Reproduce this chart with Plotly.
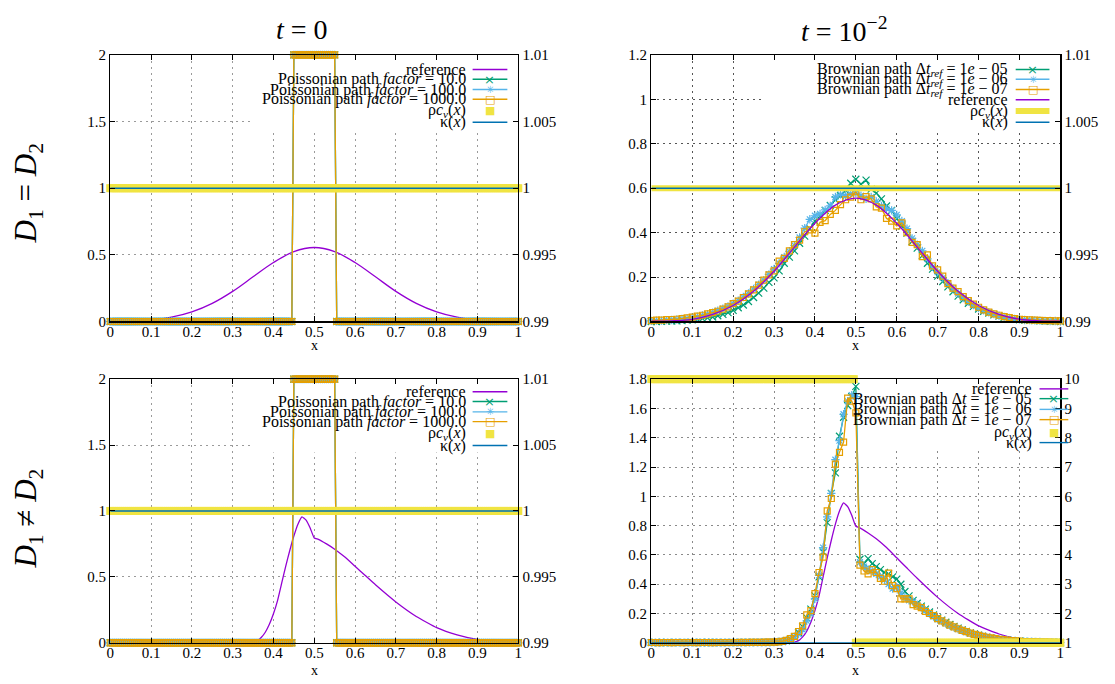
import plotly.graph_objects as go

# ---------------------------------------------------------------- data
x_tick_vals = [0, 0.1, 0.2, 0.3, 0.4, 0.5, 0.6, 0.7, 0.8, 0.9, 1.0]
x_tick_text = ["0", "0.1", "0.2", "0.3", "0.4", "0.5", "0.6", "0.7", "0.8", "0.9", "1"]

left_ticks_2 = [0, 0.5, 1, 1.5, 2]
left_ticks_2_text = ["0", "0.5", "1", "1.5", "2"]
left_ticks_12 = [0, 0.2, 0.4, 0.6, 0.8, 1.0, 1.2]
left_ticks_12_text = ["0", "0.2", "0.4", "0.6", "0.8", "1", "1.2"]
left_ticks_18 = [0, 0.2, 0.4, 0.6, 0.8, 1.0, 1.2, 1.4, 1.6, 1.8]
left_ticks_18_text = ["0", "0.2", "0.4", "0.6", "0.8", "1", "1.2", "1.4", "1.6", "1.8"]
right_ticks_001 = [0.99, 0.995, 1.0, 1.005, 1.01]
right_ticks_001_text = ["0.99", "0.995", "1", "1.005", "1.01"]
right_ticks_10 = [1, 2, 3, 4, 5, 6, 7, 8, 9, 10]
right_ticks_10_text = ["1", "2", "3", "4", "5", "6", "7", "8", "9", "10"]

# reference solution, D1 = D2
ref_eq_x = [0.0, 0.05, 0.1, 0.15, 0.2, 0.25, 0.3, 0.35, 0.4, 0.45, 0.5,
            0.55, 0.6, 0.65, 0.7, 0.75, 0.8, 0.85, 0.9, 0.95, 1.0]
ref_eq_y = [0.001, 0.003, 0.010, 0.032, 0.072, 0.136, 0.226, 0.335, 0.442, 0.524, 0.555,
            0.524, 0.442, 0.335, 0.226, 0.136, 0.072, 0.032, 0.010, 0.003, 0.001]

# reference solution, D1 != D2
ref_neq_x = [0.0, 0.1, 0.2, 0.3, 0.33, 0.35, 0.36, 0.37, 0.38, 0.39, 0.40, 0.41, 0.42,
             0.43, 0.44, 0.45, 0.46, 0.47, 0.48, 0.49, 0.50, 0.51, 0.53, 0.55, 0.575,
             0.6, 0.625, 0.65, 0.7, 0.75, 0.8, 0.85, 0.9, 0.95, 1.0]
ref_neq_y = [0.0, 0.0, 0.0, 0.0, 0.001, 0.005, 0.015, 0.04, 0.08, 0.14, 0.22, 0.32, 0.45,
             0.58, 0.70, 0.81, 0.90, 0.955, 0.93, 0.87, 0.795, 0.785, 0.75, 0.71, 0.65,
             0.58, 0.51, 0.44, 0.31, 0.20, 0.115, 0.06, 0.025, 0.008, 0.002]

# Poissonian paths at t = 0 (sampled every 0.005)
poisson_x = [round(i * 0.005, 4) for i in range(201)]
poisson_f10 = [0.0] * 90 + [2.0] * 21 + [0.0] * 90
poisson_f100 = [0.0] * 90 + [2.0] * 21 + [0.0] * 90
poisson_f1000 = [0.0] * 90 + [2.0] * 21 + [0.0] * 90

# material coefficients
coef_x = [round(i * 0.005, 4) for i in range(201)]
rho_cv_eq = [1.0] * 201
rho_cv_neq = [10.0] * 100 + [1.0] * 101
kappa_x = [0.0, 1.0]
kappa_eq = [1.0, 1.0]
kappa_neq = [1.0, 1.0]

# Brownian paths, D1 = D2, t = 1e-2 (every 0.0125)
brown_eq_x = [round(i * 0.0125, 5) for i in range(81)]
brown_eq_ref5 = [
    0.000, 0.000, 0.001, 0.002, 0.002, 0.003, 0.004, 0.006, 0.008, 0.010,
    0.013, 0.016, 0.020, 0.026, 0.032, 0.040, 0.050, 0.062, 0.074, 0.090,
    0.108, 0.128, 0.150, 0.176, 0.196, 0.228, 0.262, 0.290, 0.318, 0.352,
    0.384, 0.418, 0.452, 0.474, 0.500, 0.522, 0.548, 0.566, 0.590, 0.622,
    0.640, 0.618, 0.636, 0.596, 0.578, 0.552, 0.520, 0.500, 0.462, 0.430,
    0.398, 0.360, 0.330, 0.296, 0.262, 0.236, 0.204, 0.180, 0.156, 0.134,
    0.114, 0.098, 0.082, 0.068, 0.056, 0.046, 0.038, 0.030, 0.024, 0.018,
    0.014, 0.011, 0.008, 0.006, 0.005, 0.004, 0.003, 0.002, 0.001, 0.001,
    0.000]
brown_eq_ref6 = [
    0.003, 0.004, 0.004, 0.006, 0.007, 0.009, 0.011, 0.014, 0.018, 0.022,
    0.027, 0.033, 0.040, 0.049, 0.058, 0.068, 0.080, 0.094, 0.110, 0.126,
    0.146, 0.166, 0.186, 0.212, 0.236, 0.262, 0.290, 0.316, 0.342, 0.378,
    0.420, 0.460, 0.476, 0.484, 0.502, 0.520, 0.560, 0.572, 0.566, 0.574,
    0.578, 0.566, 0.552, 0.560, 0.540, 0.520, 0.508, 0.500, 0.480, 0.452,
    0.418, 0.374, 0.346, 0.318, 0.282, 0.246, 0.222, 0.196, 0.172, 0.148,
    0.126, 0.106, 0.090, 0.074, 0.060, 0.050, 0.041, 0.033, 0.026, 0.020,
    0.016, 0.012, 0.010, 0.007, 0.006, 0.005, 0.004, 0.003, 0.002, 0.002,
    0.001]
brown_eq_ref7 = [
    0.004, 0.006, 0.006, 0.008, 0.009, 0.010, 0.013, 0.016, 0.020, 0.024,
    0.028, 0.034, 0.040, 0.046, 0.056, 0.066, 0.080, 0.092, 0.108, 0.124,
    0.142, 0.164, 0.186, 0.210, 0.228, 0.272, 0.284, 0.318, 0.346, 0.366,
    0.404, 0.412, 0.398, 0.446, 0.454, 0.482, 0.500, 0.526, 0.548, 0.560,
    0.584, 0.548, 0.562, 0.552, 0.516, 0.510, 0.464, 0.452, 0.430, 0.444,
    0.400, 0.356, 0.346, 0.292, 0.300, 0.250, 0.232, 0.204, 0.170, 0.150,
    0.134, 0.112, 0.094, 0.078, 0.064, 0.052, 0.042, 0.034, 0.028, 0.022,
    0.017, 0.013, 0.010, 0.008, 0.007, 0.006, 0.005, 0.004, 0.004, 0.003,
    0.003]

# Brownian paths, D1 != D2, t = 1e-2 (every 0.01)
brown_neq_x = [round(i * 0.01, 3) for i in range(101)]
brown_neq_dt5 = [
    0.001, 0.002, 0.001, 0.001, 0.002, 0.001, 0.002, 0.001, 0.002, 0.002,
    0.001, 0.002, 0.002, 0.001, 0.002, 0.002, 0.002, 0.001, 0.002, 0.002,
    0.002, 0.002, 0.002, 0.003, 0.002, 0.003, 0.003, 0.003, 0.003, 0.004,
    0.004, 0.006, 0.009, 0.014, 0.024, 0.040, 0.070, 0.110, 0.170, 0.230,
    0.320, 0.450, 0.620, 0.820, 1.020, 1.160, 1.410, 1.540, 1.620, 1.680,
    1.750, 0.570, 0.540, 0.575, 0.540, 0.520, 0.500, 0.480, 0.470, 0.450,
    0.435, 0.400, 0.350, 0.320, 0.290, 0.270, 0.250, 0.230, 0.210, 0.190,
    0.170, 0.155, 0.140, 0.125, 0.112, 0.100, 0.088, 0.078, 0.068, 0.060,
    0.052, 0.045, 0.039, 0.034, 0.029, 0.025, 0.021, 0.018, 0.015, 0.013,
    0.011, 0.009, 0.008, 0.007, 0.006, 0.005, 0.004, 0.003, 0.003, 0.002,
    0.002]
brown_neq_dt6 = [
    0.002, 0.001, 0.002, 0.002, 0.001, 0.002, 0.002, 0.002, 0.001, 0.002,
    0.002, 0.002, 0.001, 0.002, 0.002, 0.002, 0.002, 0.002, 0.002, 0.003,
    0.002, 0.003, 0.002, 0.003, 0.003, 0.003, 0.003, 0.004, 0.004, 0.004,
    0.005, 0.007, 0.010, 0.015, 0.026, 0.042, 0.060, 0.090, 0.150, 0.200,
    0.300, 0.460, 0.650, 0.860, 1.020, 1.250, 1.380, 1.560, 1.650, 1.690,
    1.680, 0.550, 0.520, 0.500, 0.490, 0.470, 0.450, 0.430, 0.400, 0.370,
    0.380, 0.340, 0.310, 0.290, 0.280, 0.260, 0.240, 0.220, 0.200, 0.180,
    0.160, 0.148, 0.132, 0.118, 0.106, 0.094, 0.084, 0.074, 0.064, 0.056,
    0.049, 0.043, 0.037, 0.032, 0.028, 0.024, 0.020, 0.017, 0.015, 0.013,
    0.011, 0.009, 0.008, 0.007, 0.006, 0.005, 0.004, 0.003, 0.003, 0.002,
    0.002]
brown_neq_dt7 = [
    0.002, 0.002, 0.001, 0.002, 0.002, 0.001, 0.002, 0.002, 0.001, 0.002,
    0.002, 0.001, 0.002, 0.002, 0.002, 0.001, 0.002, 0.002, 0.002, 0.002,
    0.002, 0.002, 0.003, 0.002, 0.003, 0.003, 0.003, 0.003, 0.004, 0.004,
    0.005, 0.006, 0.010, 0.016, 0.028, 0.044, 0.077, 0.116, 0.190, 0.220,
    0.336, 0.480, 0.585, 0.900, 0.985, 1.220, 1.300, 1.370, 1.670, 1.650,
    1.570, 0.530, 0.490, 0.470, 0.500, 0.480, 0.440, 0.420, 0.475, 0.390,
    0.370, 0.300, 0.300, 0.300, 0.260, 0.250, 0.240, 0.215, 0.200, 0.185,
    0.165, 0.150, 0.135, 0.120, 0.108, 0.096, 0.085, 0.076, 0.066, 0.058,
    0.050, 0.044, 0.038, 0.033, 0.028, 0.024, 0.021, 0.018, 0.015, 0.013,
    0.011, 0.009, 0.008, 0.007, 0.006, 0.005, 0.004, 0.004, 0.003, 0.003,
    0.002]

# ---------------------------------------------------------------- style
W, H = 1115, 684
SERIF = "Liberation Serif"
GLYPH = "DejaVu Sans"
PURPLE, GREEN, LBLUE = "#9400d3", "#009e73", "#56b4e9"
ORANGE, YELLOW, BLUE = "#e69f00", "#f0e442", "#0072b2"

MK_X = dict(symbol="x-thin-open", size=7, color=GREEN, line=dict(color=GREEN, width=1.2))
MK_AST = dict(symbol="asterisk-open", size=7, color=LBLUE, line=dict(color=LBLUE, width=1.2))
MK_SQ = dict(symbol="square-open", size=6, color=ORANGE, line=dict(color=ORANGE, width=1.2))
MK_YSQ = dict(symbol="square", size=8, color=YELLOW, line=dict(width=0))

panels = {
    1: dict(x0=107, x1=518, y0=48, y1=321),
    2: dict(x0=652, x1=1064, y0=48, y1=321),
    3: dict(x0=107, x1=518, y0=380, y1=650),
    4: dict(x0=652, x1=1064, y0=380, y1=650),
}


def refs(p, right=False):
    xa = "x" if p == 1 else f"x{p}"
    yi = 2 * p if right else 2 * p - 1
    ya = "y" if yi == 1 else f"y{yi}"
    return xa, ya


fig = go.Figure()


def add(p, right=False, **kw):
    xa, ya = refs(p, right)
    fig.add_trace(go.Scatter(xaxis=xa, yaxis=ya, showlegend=False, hoverinfo="skip", **kw))


def line(color, width=1.3, shape="linear", smoothing=None):
    d = dict(color=color, width=width, shape=shape)
    if smoothing is not None:
        d["smoothing"] = smoothing
    return d


# panel 1 : t = 0, D1 = D2
add(1, x=ref_eq_x, y=ref_eq_y, mode="lines", line=line(PURPLE, shape="spline", smoothing=1.0))
add(1, x=poisson_x, y=poisson_f10, mode="lines+markers", line=line(GREEN), marker=MK_X, cliponaxis=False)
add(1, x=poisson_x, y=poisson_f100, mode="lines+markers", line=line(LBLUE), marker=MK_AST, cliponaxis=False)
add(1, x=poisson_x, y=poisson_f1000, mode="lines+markers", line=line(ORANGE), marker=MK_SQ, cliponaxis=False)
add(1, right=True, x=coef_x, y=rho_cv_eq, mode="markers", marker=MK_YSQ, cliponaxis=False)
add(1, right=True, x=kappa_x, y=kappa_eq, mode="lines", line=line(BLUE, 1.6))

# panel 2 : t = 1e-2, D1 = D2
add(2, x=brown_eq_x, y=brown_eq_ref5, mode="lines+markers", line=line(GREEN), marker=MK_X, cliponaxis=False)
add(2, x=brown_eq_x, y=brown_eq_ref6, mode="lines+markers", line=line(LBLUE), marker=MK_AST, cliponaxis=False)
add(2, x=brown_eq_x, y=brown_eq_ref7, mode="lines+markers", line=line(ORANGE), marker=MK_SQ, cliponaxis=False)
add(2, x=ref_eq_x, y=ref_eq_y, mode="lines", line=line(PURPLE, shape="spline", smoothing=1.0))
add(2, right=True, x=coef_x, y=rho_cv_eq, mode="lines", line=line(YELLOW, 6))
add(2, right=True, x=kappa_x, y=kappa_eq, mode="lines", line=line(BLUE, 1.4))

# panel 3 : t = 0, D1 != D2
add(3, x=ref_neq_x, y=ref_neq_y, mode="lines", line=line(PURPLE, shape="spline", smoothing=0.4))
add(3, x=poisson_x, y=poisson_f10, mode="lines+markers", line=line(GREEN), marker=MK_X, cliponaxis=False)
add(3, x=poisson_x, y=poisson_f100, mode="lines+markers", line=line(LBLUE), marker=MK_AST, cliponaxis=False)
add(3, x=poisson_x, y=poisson_f1000, mode="lines+markers", line=line(ORANGE), marker=MK_SQ, cliponaxis=False)
add(3, right=True, x=coef_x, y=rho_cv_eq, mode="markers", marker=MK_YSQ, cliponaxis=False)
add(3, right=True, x=kappa_x, y=kappa_eq, mode="lines", line=line(BLUE, 1.6))

# panel 4 : t = 1e-2, D1 != D2
add(4, x=ref_neq_x, y=ref_neq_y, mode="lines", line=line(PURPLE, shape="spline", smoothing=0.4))
add(4, x=brown_neq_x, y=brown_neq_dt5, mode="lines+markers", line=line(GREEN), marker=MK_X, cliponaxis=False)
add(4, x=brown_neq_x, y=brown_neq_dt6, mode="lines+markers", line=line(LBLUE), marker=MK_AST, cliponaxis=False)
add(4, x=brown_neq_x, y=brown_neq_dt7, mode="lines+markers", line=line(ORANGE), marker=MK_SQ, cliponaxis=False)
add(4, right=True, x=coef_x, y=rho_cv_neq, mode="markers", marker=MK_YSQ, cliponaxis=False)
add(4, right=True, x=kappa_x, y=kappa_neq, mode="lines", line=line(BLUE, 1.6))

# ---------------------------------------------------------------- axes
axis_common = dict(showline=True, linecolor="black", linewidth=1.2, ticks="inside", ticklen=5,
                   tickcolor="black", tickwidth=1, zeroline=False,
                   tickfont=dict(family=SERIF, size=15, color="black"))
grid_colors = {1: "#9a9a9a", 2: "#555555", 3: "#9a9a9a", 4: "#8a8a8a"}
left_specs = {
    1: ([0, 2], left_ticks_2, left_ticks_2_text),
    2: ([0, 1.2], left_ticks_12, left_ticks_12_text),
    3: ([0, 2], left_ticks_2, left_ticks_2_text),
    4: ([0, 1.8], left_ticks_18, left_ticks_18_text),
}
right_specs = {
    1: ([0.99, 1.01], right_ticks_001, right_ticks_001_text),
    2: ([0.99, 1.01], right_ticks_001, right_ticks_001_text),
    3: ([0.99, 1.01], right_ticks_001, right_ticks_001_text),
    4: ([1, 10], right_ticks_10, right_ticks_10_text),
}

layout_axes = {}
for p, g in panels.items():
    xa, yl = refs(p)
    _, yr = refs(p, True)
    xdom = [g["x0"] / W, g["x1"] / W]
    ydom = [1 - g["y1"] / H, 1 - g["y0"] / H]
    xname = "xaxis" if p == 1 else f"xaxis{p}"
    ylname = "yaxis" if yl == "y" else "yaxis" + yl[1:]
    yrname = "yaxis" + yr[1:]
    layout_axes[xname] = dict(axis_common, domain=xdom, anchor=yl, range=[0, 1], mirror="ticks",
                              tickmode="array", tickvals=x_tick_vals, ticktext=x_tick_text,
                              ticklabelstandoff=-4,
                              showgrid=True, gridcolor=grid_colors[p], griddash="2px,4px", gridwidth=1)
    rng, tv, tt = left_specs[p]
    layout_axes[ylname] = dict(axis_common, domain=ydom, anchor=xa, range=rng,
                               tickmode="array", tickvals=tv, ticktext=tt,
                               showgrid=True, gridcolor=grid_colors[p], griddash="2px,4px", gridwidth=1)
    rng, tv, tt = right_specs[p]
    layout_axes[yrname] = dict(axis_common, overlaying=yl, anchor=xa, side="right", range=rng,
                               tickmode="array", tickvals=tv, ticktext=tt, showgrid=False)

fig.update_layout(**layout_axes)

# ---------------------------------------------------------------- legends (drawn as text)
REF = "reference"
P10 = "Poissonian path <i>factor</i> = 10.0"
P100 = "Poissonian path <i>factor</i> = 100.0"
P1000 = "Poissonian path <i>factor</i> = 1000.0"
BR5 = "Brownian path Δ<i>t</i><sub><i>ref</i></sub> = 1<i>e</i> − 05"
BR6 = "Brownian path Δ<i>t</i><sub><i>ref</i></sub> = 1<i>e</i> − 06"
BR7 = "Brownian path Δ<i>t</i><sub><i>ref</i></sub> = 1<i>e</i> − 07"
B5 = "Brownian path Δ<i>t</i> = 1<i>e</i> − 05"
B6 = "Brownian path Δ<i>t</i> = 1<i>e</i> − 06"
B7 = "Brownian path Δ<i>t</i> = 1<i>e</i> − 07"
RHO = "ρ<i>c</i><sub><i>v</i></sub>(<i>x</i>)"
KAP = "κ(<i>x</i>)"

legends = {
    1: dict(right=466, s0=472, s1=507, ys=[63, 73, 83.5, 93.5, 105, 117],
            items=[(REF, PURPLE, "line"), (P10, GREEN, "x"), (P100, LBLUE, "ast"),
                   (P1000, ORANGE, "sq"), (RHO, YELLOW, "ysq"), (KAP, BLUE, "line")]),
    2: dict(right=1012, s0=1019, s1=1053, ys=[63, 73, 83.5, 94, 105.5, 117],
            items=[(BR5, GREEN, "x"), (BR6, LBLUE, "ast"), (BR7, ORANGE, "sq"),
                   (REF, PURPLE, "line"), (RHO, YELLOW, "thick"), (KAP, BLUE, "line")]),
    3: dict(right=466, s0=472, s1=507, ys=[393, 403, 413.5, 423.5, 436, 448],
            items=[(REF, PURPLE, "line"), (P10, GREEN, "x"), (P100, LBLUE, "ast"),
                   (P1000, ORANGE, "sq"), (RHO, YELLOW, "ysq"), (KAP, BLUE, "line")]),
    4: dict(right=1036, s0=1043, s1=1072, ys=[390, 400, 411, 421.5, 435, 445],
            items=[(REF, PURPLE, "line"), (B5, GREEN, "x"), (B6, LBLUE, "ast"),
                   (B7, ORANGE, "sq"), (RHO, YELLOW, "ysq"), (KAP, BLUE, "line")]),
}
# opaque key boxes (data coordinates of each panel's left axis)
legend_boxes = {1: (0.348, 1.444, 2.0), 2: (0.274, 0.866, 1.2), 3: (0.348, 1.444, 2.0), 4: (0.42, 1.314, 1.8)}

shapes, annotations = [], []
for p, (bx, by, btop) in legend_boxes.items():
    xa, yl = refs(p)
    shapes.append(dict(type="rect", xref=xa, yref=yl, x0=bx, x1=1.0,
                       y0=by, y1=btop, fillcolor="white", line=dict(width=0), layer="between"))

glyphs = {"x": ("×", 13), "ast": ("✳", 10), "sq": ("□", 11), "ysq": ("■", 11)}
for p, lg in legends.items():
    for (label, color, kind), yy in zip(lg["items"], lg["ys"]):
        yp = 1 - yy / H
        annotations.append(dict(text=label, xref="paper", yref="paper", x=lg["right"] / W, y=yp,
                                xanchor="right", yanchor="middle", showarrow=False, borderpad=0,
                                font=dict(family=SERIF, size=16, color="black")))
        if kind in ("line", "x", "ast", "sq", "thick"):
            shapes.append(dict(type="line", xref="paper", yref="paper", x0=lg["s0"] / W, x1=lg["s1"] / W,
                               y0=yp, y1=yp, layer="above",
                               line=dict(color=color, width=6 if kind == "thick" else 1.4)))
        if kind in glyphs:
            ch, sz = glyphs[kind]
            annotations.append(dict(text=ch, xref="paper", yref="paper",
                                    x=(lg["s0"] + lg["s1"]) / 2 / W, y=yp, xanchor="center",
                                    yanchor="middle", showarrow=False, borderpad=0,
                                    font=dict(family=GLYPH, size=sz, color=color)))

# titles, row labels, axis labels
for txt, xx in [("<i>t</i> = 0", 300), ("<i>t</i> = 10<sup>−2</sup>", 846)]:
    annotations.append(dict(text=txt, x=xx / W, y=1 - 22 / H, xref="paper", yref="paper",
                            xanchor="center", yanchor="middle", showarrow=False,
                            font=dict(family=SERIF, size=28, color="black")))
for txt, yy in [("<i>D</i><sub>1</sub> = <i>D</i><sub>2</sub>", 190),
                ("<i>D</i><sub>1</sub> ≠ <i>D</i><sub>2</sub>", 523)]:
    annotations.append(dict(text=txt, x=24 / W, y=1 - yy / H, xref="paper", yref="paper",
                            xanchor="center", yanchor="middle", textangle=-90, showarrow=False,
                            font=dict(family=SERIF, size=31, color="black")))
for xx, yy in [(313, 346), (858, 346), (313, 678), (858, 678)]:
    annotations.append(dict(text="x", x=xx / W, y=1 - yy / H, xref="paper", yref="paper",
                            xanchor="center", yanchor="middle", showarrow=False,
                            font=dict(family=SERIF, size=14, color="black")))

fig.update_layout(width=W, height=H, margin=dict(l=0, r=0, t=0, b=0), autosize=False,
                  paper_bgcolor="white", plot_bgcolor="white", showlegend=False,
                  shapes=shapes, annotations=annotations, hovermode=False)

fig.write_html("out.html", config={"displayModeBar": False, "staticPlot": True},
               post_script="document.body.style.margin='0';document.body.style.overflow='hidden';")
